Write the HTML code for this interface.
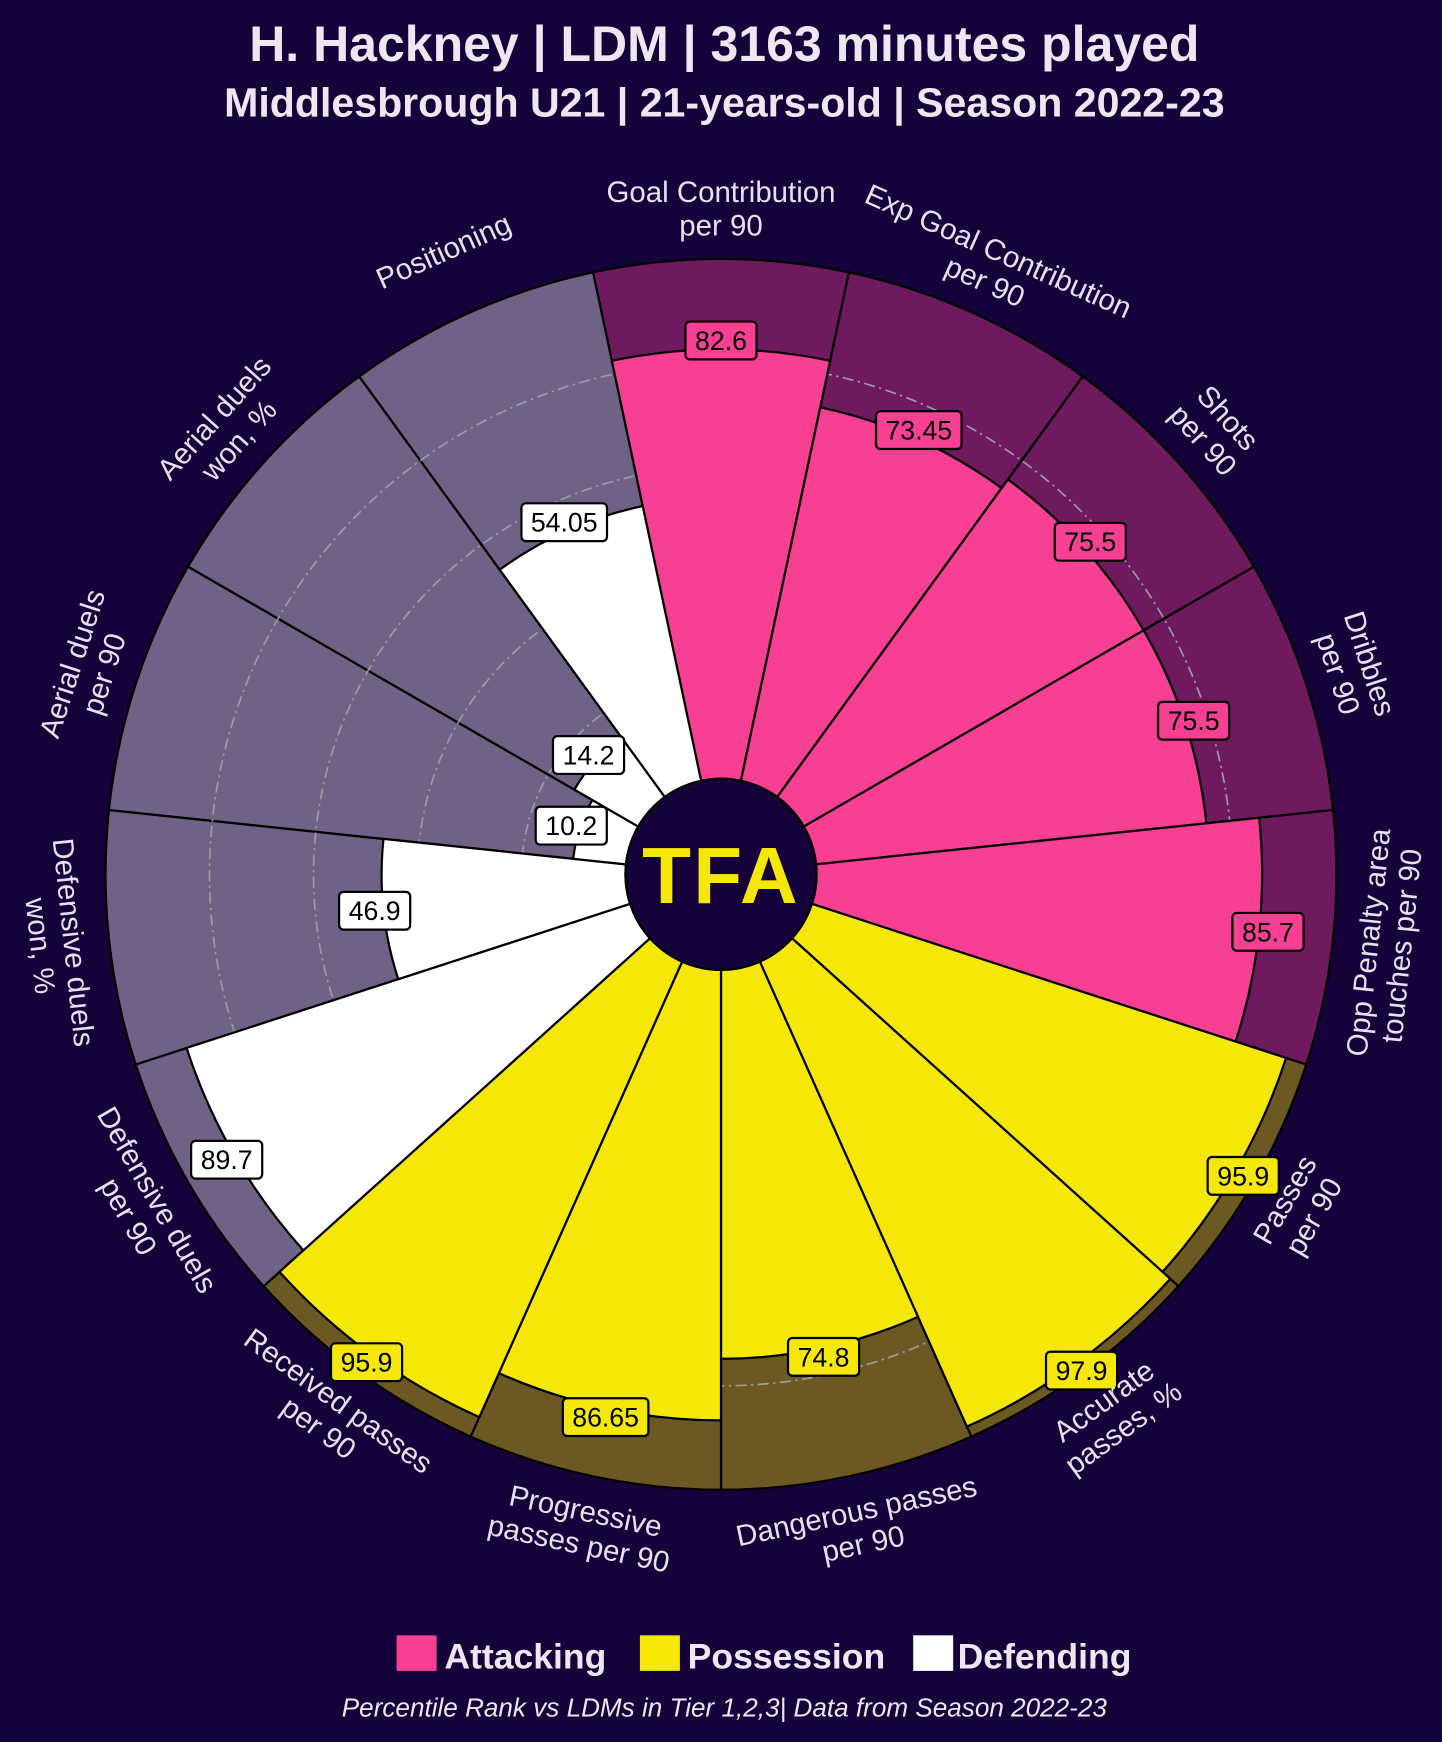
<!DOCTYPE html>
<html><head><meta charset="utf-8"><style>
html,body{margin:0;padding:0;background:#15023a;}
svg{display:block;}
text{font-family:"Liberation Sans",sans-serif;}
</style></head><body>
<svg id="s" width="1442" height="1742" viewBox="0 0 1298 1568" xmlns="http://www.w3.org/2000/svg">
<rect width="1298" height="1568" fill="#15023a"/>
<text x="652" y="55" text-anchor="middle" font-size="45" font-weight="600" fill="#efe6f2">H. Hackney | LDM | 3163 minutes played</text>
<text x="652" y="105" text-anchor="middle" font-size="37" font-weight="600" fill="#efe6f2">Middlesbrough U21 | 21-years-old | Season 2022-23</text>
<g id="bg"></g>
<g id="grid" fill="none" stroke="#9a9aa8" stroke-width="1.5" stroke-dasharray="10 4 2 4">
<circle cx="649" cy="787" r="179.6"/><circle cx="649" cy="787" r="273.2"/><circle cx="649" cy="787" r="366.8"/><circle cx="649" cy="787" r="460.4"/>
</g>
<g id="fg"></g>
<circle cx="649" cy="787" r="86" fill="#15023a" stroke="#000" stroke-width="2"/>
<text x="649" y="813" text-anchor="middle" font-size="72" font-weight="bold" fill="#f5e808" letter-spacing="2">TFA</text>
<g id="vals" font-size="24" text-anchor="middle"></g>
<g font-size="26.5" fill="#e8dff0" text-anchor="middle">
<g transform="translate(649,787) rotate(0) translate(0,-600)"><text y="-5">Goal Contribution</text><text y="25">per 90</text></g>
<g transform="translate(649,787) rotate(24) translate(0,-600)"><text y="-5">Exp Goal Contribution</text><text y="25">per 90</text></g>
<g transform="translate(649,787) rotate(48) translate(0,-600)"><text y="-5">Shots</text><text y="25">per 90</text></g>
<g transform="translate(649,787) rotate(72) translate(0,-600)"><text y="-5">Dribbles</text><text y="25">per 90</text></g>
<g transform="translate(649,787) rotate(96) translate(0,-600) rotate(180)"><text y="-5">Opp Penalty area</text><text y="25">touches per 90</text></g>
<g transform="translate(649,787) rotate(120) translate(0,-600) rotate(180)"><text y="-5">Passes</text><text y="25">per 90</text></g>
<g transform="translate(649,787) rotate(144) translate(0,-600) rotate(180)"><text y="-5">Accurate</text><text y="25">passes, %</text></g>
<g transform="translate(649,787) rotate(168) translate(0,-600) rotate(180)"><text y="-5">Dangerous passes</text><text y="25">per 90</text></g>
<g transform="translate(649,787) rotate(192) translate(0,-600) rotate(180)"><text y="-5">Progressive</text><text y="25">passes per 90</text></g>
<g transform="translate(649,787) rotate(216) translate(0,-600) rotate(180)"><text y="-5">Received passes</text><text y="25">per 90</text></g>
<g transform="translate(649,787) rotate(240) translate(0,-600) rotate(180)"><text y="-5">Defensive duels</text><text y="25">per 90</text></g>
<g transform="translate(649,787) rotate(264) translate(0,-600) rotate(180)"><text y="-5">Defensive duels</text><text y="25">won, %</text></g>
<g transform="translate(649,787) rotate(288) translate(0,-600)"><text y="-5">Aerial duels</text><text y="25">per 90</text></g>
<g transform="translate(649,787) rotate(312) translate(0,-600)"><text y="-5">Aerial duels</text><text y="25">won, %</text></g>
<g transform="translate(649,787) rotate(336) translate(0,-600)"><text y="-5">Positioning</text></g>
</g>
<rect x="357" y="1472" width="36" height="32" fill="#f73f93"/>
<text x="400" y="1502" font-size="32" font-weight="bold" fill="#efe6f2">Attacking</text>
<rect x="576" y="1472" width="36" height="32" fill="#f5e808"/>
<text x="619" y="1502" font-size="32" font-weight="bold" fill="#efe6f2">Possession</text>
<rect x="822" y="1472" width="36" height="32" fill="#ffffff"/>
<text x="862" y="1502" font-size="32" font-weight="bold" fill="#efe6f2">Defending</text>
<text x="652" y="1545" text-anchor="middle" font-size="23.5" font-style="italic" fill="#efe6f2">Percentile Rank vs LDMs in Tier 1,2,3| Data from Season 2022-23</text>
</svg>
<script>
(function(){
var cx=649,cy=787,ri=86,ro=554;
var vals=[82.6,73.45,75.5,75.5,85.7,95.9,97.9,74.8,86.65,95.9,89.7,46.9,10.2,14.2,54.05];
var labs=["82.6","73.45","75.5","75.5","85.7","95.9","97.9","74.8","86.65","95.9","89.7","46.9","10.2","14.2","54.05"];
var bgc=["#6f1a5e","#6b5823","#6f6286"], fgc=["#f73f93","#f5e808","#ffffff"];
function pt(a,r){var t=a*Math.PI/180;return [cx+r*Math.sin(t),cy-r*Math.cos(t)];}
function sec(a0,a1,r){var p0=pt(a0,ri),p1=pt(a0,r),p2=pt(a1,r),p3=pt(a1,ri);
return "M"+p0+"L"+p1+"A"+r+","+r+" 0 0 1 "+p2+"L"+p3+"A"+ri+","+ri+" 0 0 0 "+p0+"Z";}
var NS="http://www.w3.org/2000/svg";
var bg=document.getElementById("bg"),fg=document.getElementById("fg"),vg=document.getElementById("vals");
for(var i=0;i<15;i++){
 var g=Math.floor(i/5),a0=24*i-12,a1=24*i+12;
 var p=document.createElementNS(NS,"path");p.setAttribute("d",sec(a0,a1,ro));p.setAttribute("fill",bgc[g]);p.setAttribute("stroke","#000");p.setAttribute("stroke-width","2");bg.appendChild(p);
 var rv=ri+(ro-ri)*vals[i]/100;
 var q=document.createElementNS(NS,"path");q.setAttribute("d",sec(a0,a1,rv));q.setAttribute("fill",fgc[g]);q.setAttribute("stroke","#000");q.setAttribute("stroke-width","2");fg.appendChild(q);
 var c=pt(24*i,rv+8);var w=labs[i].length*13+12;
 var r=document.createElementNS(NS,"rect");r.setAttribute("x",c[0]-w/2);r.setAttribute("y",c[1]-17);r.setAttribute("width",w);r.setAttribute("height",34);r.setAttribute("rx",4);r.setAttribute("fill",fgc[g]);r.setAttribute("stroke","#000");r.setAttribute("stroke-width","2");vg.appendChild(r);
 var t=document.createElementNS(NS,"text");t.setAttribute("x",c[0]);t.setAttribute("y",c[1]+8.5);t.setAttribute("fill","#000");t.textContent=labs[i];vg.appendChild(t);
}})();
</script>
</body></html>
